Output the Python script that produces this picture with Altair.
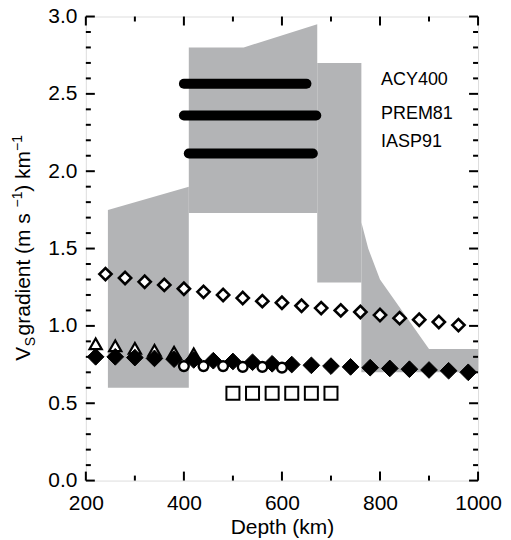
import altair as alt
import pandas as pd

# ---------------- data ----------------
# grey envelope, four pieces: depth, upper and lower gradient
env_a_depth = [245, 410]
env_a_top = [1.75, 1.90]
env_a_bot = [0.60, 0.60]
env_b_depth = [410, 522, 672]
env_b_top = [2.80, 2.80, 2.95]
env_b_bot = [1.73, 1.73, 1.73]
env_c_depth = [672, 762]
env_c_top = [2.70, 2.70]
env_c_bot = [1.28, 1.28]
env_d_depth = [762, 776, 800, 900, 1000]
env_d_top = [1.67, 1.50, 1.30, 0.85, 0.85]
env_d_bot = [0.70, 0.70, 0.70, 0.70, 0.70]

# reference models (thick bars)
models = ["ACY400", "PREM81", "IASP91"]
model_start = [400, 400, 410]
model_end = [650, 670, 663]
model_grad = [2.566, 2.36, 2.114]
label_depth = [802, 802, 802]
label_grad = [2.59, 2.37, 2.19]

# open diamonds
od_depth = [240, 280, 320, 360, 400, 440, 480, 520, 560, 600, 640, 680, 720, 760, 800, 840, 880, 920, 960]
od_grad = [1.335, 1.31, 1.285, 1.265, 1.24, 1.22, 1.20, 1.18, 1.16, 1.15, 1.13, 1.115, 1.10, 1.09, 1.07,
           1.05, 1.04, 1.025, 1.005]
# filled diamonds
fd_depth = [220, 260, 300, 340, 380, 420, 460, 500, 540, 580, 620, 660, 700, 740, 780, 820, 860, 900, 940, 980]
fd_grad = [0.80, 0.80, 0.795, 0.79, 0.785, 0.78, 0.775, 0.77, 0.765, 0.755, 0.75, 0.745, 0.74, 0.735,
           0.73, 0.725, 0.72, 0.715, 0.71, 0.70]
# open triangles
tr_depth = [220, 260, 300, 340, 380, 420]
tr_grad = [0.884, 0.871, 0.855, 0.842, 0.83, 0.82]
# open circles
ci_depth = [400, 440, 480, 520, 560, 600]
ci_grad = [0.74, 0.74, 0.74, 0.735, 0.735, 0.73]
# open squares
sq_depth = [500, 540, 580, 620, 660, 700]
sq_grad = [0.565, 0.565, 0.565, 0.565, 0.565, 0.565]

# axis ticks
x_major = [200, 400, 600, 800, 1000]
x_minor = [300, 500, 700, 900]
y_major = [0.0, 0.5, 1.0, 1.5, 2.0, 2.5, 3.0]
y_minor = [0.1, 0.2, 0.3, 0.4, 0.6, 0.7, 0.8, 0.9, 1.1, 1.2, 1.3, 1.4, 1.6, 1.7, 1.8, 1.9,
           2.1, 2.2, 2.3, 2.4, 2.6, 2.7, 2.8, 2.9]

# ---------------- chart ----------------
W, H = 393, 465
FONT = "Liberation Sans"
GREY = "#b3b4b6"

xs = alt.Scale(domain=[200, 1000], nice=False, zero=False)
ys = alt.Scale(domain=[0, 3], nice=False, zero=False)
xaxis = alt.Axis(values=x_major, format="d", title="Depth (km)", grid=False, domain=False, ticks=False,
                 labelPadding=12, titlePadding=3, labelFontSize=21, titleFontSize=21,
                 labelFont=FONT, titleFont=FONT, labelColor="black", titleColor="black",
                 titleFontWeight="normal", labelFlush=False)
yaxis = alt.Axis(values=y_major, format=".1f", title="", grid=False, domain=False, ticks=False,
                 labelPadding=9, labelFontSize=21, labelFont=FONT, labelColor="black")


def X(field="depth"):
    return alt.X(f"{field}:Q", scale=xs, axis=xaxis)


def Y(field="grad"):
    return alt.Y(f"{field}:Q", scale=ys, axis=yaxis)


def env_piece(d, t, b):
    df = pd.DataFrame({"depth": d, "grad": t, "low": b})
    return alt.Chart(df).mark_area(color=GREY, opacity=1, interpolate="linear").encode(
        x=X(), y=alt.Y("grad:Q", scale=ys, axis=yaxis, stack=False), y2="low:Q")


envelope = [env_piece(env_a_depth, env_a_top, env_a_bot), env_piece(env_b_depth, env_b_top, env_b_bot),
            env_piece(env_c_depth, env_c_top, env_c_bot), env_piece(env_d_depth, env_d_top, env_d_bot)]

line_rows = []
for i, m in enumerate(models):
    line_rows.append({"model": m, "depth": model_start[i], "grad": model_grad[i]})
    line_rows.append({"model": m, "depth": model_end[i], "grad": model_grad[i]})
lines = alt.Chart(pd.DataFrame(line_rows)).mark_line(color="black", strokeWidth=10, strokeCap="round").encode(
    x=X(), y=Y(), detail="model:N")

labels = alt.Chart(pd.DataFrame({"depth": label_depth, "grad": label_grad, "t": models})).mark_text(
    align="left", baseline="middle", font=FONT, fontSize=18, color="black").encode(x=X(), y=Y(), text="t:N")


def pts(depth, grad, **kw):
    return alt.Chart(pd.DataFrame({"depth": depth, "grad": grad})).mark_point(opacity=1, **kw).encode(
        x=X(), y=Y())


open_d = pts(od_depth, od_grad, shape="diamond", filled=True, fill="white", stroke="black",
             strokeWidth=2.6, size=150)
tri = pts(tr_depth, tr_grad, shape="triangle-up", filled=True, fill="white", stroke="black",
          strokeWidth=2.2, size=150)
fill_d = pts(fd_depth, fd_grad, shape="diamond", filled=True, fill="black", stroke="black",
             strokeWidth=1, size=280)
circ = pts(ci_depth, ci_grad, shape="circle", filled=True, fill="white", stroke="black",
           strokeWidth=2.4, size=95)
sq = pts(sq_depth, sq_grad, shape="square", filled=True, fill="white", stroke="black",
         strokeWidth=2, size=170)


def xticks(vals, length, top):
    y0 = 0 if top else H
    y1 = length if top else H - length
    return alt.Chart(pd.DataFrame({"depth": vals})).mark_rule(color="black", strokeWidth=2).encode(
        x=X(), y=alt.value(y0), y2=alt.value(y1))


def yticks(vals, length, right):
    x0 = W if right else 0
    x1 = W - length if right else length
    return alt.Chart(pd.DataFrame({"grad": vals})).mark_rule(color="black", strokeWidth=2).encode(
        y=Y(), x=alt.value(x0), x2=alt.value(x1))


ticks = [xticks(x_major, 9, False), xticks(x_minor, 5, False), xticks(x_major, 9, True),
         xticks(x_minor, 5, True), yticks(y_major, 9, False), yticks(y_minor, 5, False),
         yticks(y_major, 9, True), yticks(y_minor, 5, True)]

# y-axis title built from pieces (V, subscript S, superscripts)
TX, TY = -56, 345
one = pd.DataFrame({"k": [0]})
title_parts = [("V", 21, 0, 0), ("S", 14, 14.5, 5), (" gradient (m s", 21, 25.5, 0),
               ("\u22121", 14, 153.7, -8), (") km", 21, 169.5, 0), ("\u22121", 14, 210.3, -8)]
title_layers = []
for txt, fs, dx, dy in title_parts:
    title_layers.append(alt.Chart(one).mark_text(
        text=txt, font=FONT, fontSize=fs, angle=270, align="left", baseline="alphabetic",
        dx=dx, dy=dy, color="black").encode(x=alt.value(TX), y=alt.value(TY)))

chart = alt.layer(*envelope, lines, labels, open_d, tri, fill_d, circ, sq, *ticks, *title_layers).properties(
    width=W, height=H, autosize=alt.AutoSizeParams(type="none"),
    padding={"left": 78, "top": 8, "right": 25, "bottom": 58}
).configure_view(stroke="black", strokeWidth=2).configure(background="white")

chart.save("out.html", embed_options={"renderer": "svg", "actions": False})
